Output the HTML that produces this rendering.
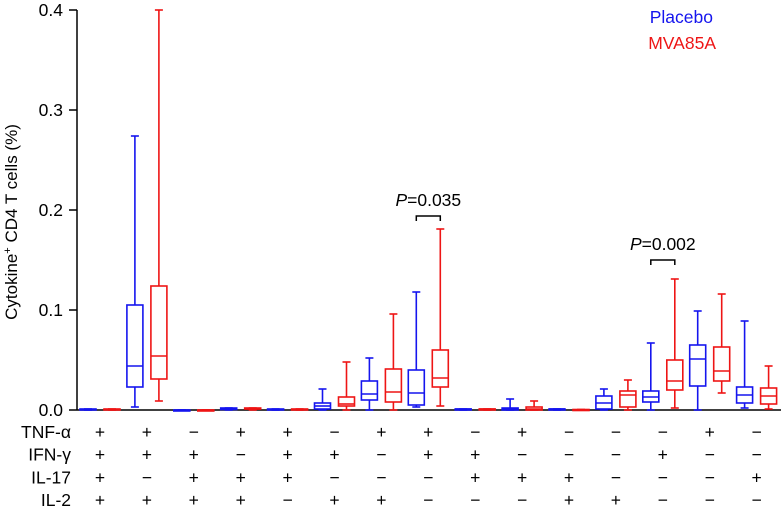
<!DOCTYPE html>
<html><head><meta charset="utf-8"><style>
body{margin:0;background:#fff;}
svg{display:block;font-family:"Liberation Sans",Arial,sans-serif;}
</style></head><body>
<svg id="chart" width="781" height="513">
<g id="axes"></g><g id="boxes"></g><g id="rows"></g>
<text x="713" y="23" fill="#1515ee" font-size="17.5" text-anchor="end">Placebo</text>
<text x="716" y="49" fill="#ee1515" font-size="17.5" text-anchor="end">MVA85A</text>
<text transform="translate(17,222) rotate(-90)" font-size="17" text-anchor="middle">Cytokine<tspan dy="-6" font-size="11">+</tspan><tspan dy="6"> CD4 T cells (%)</tspan></text>
</svg>
<script>
const yTicks=[0,0.1,0.2,0.3,0.4];
const tickLabels=["0.0","0.1","0.2","0.3","0.4"];
// [min,q1,median,q3,max]
const placebo=[[0,0,0.0005,0.001,0.001],[0.003,0.023,0.044,0.105,0.274],[0,0,0,0,0],[0,0.0005,0.001,0.002,0.002],[0,0,0.0005,0.001,0.001],[0,0.001,0.004,0.007,0.021],[0,0.010,0.016,0.029,0.052],[0.003,0.005,0.017,0.040,0.118],[0,0,0.001,0.001,0.001],[0,0,0.001,0.002,0.011],[0,0,0.001,0.001,0.001],[0,0.001,0.007,0.014,0.021],[0,0.008,0.013,0.019,0.067],[0,0.024,0.051,0.065,0.099],[0.002,0.007,0.015,0.023,0.089]];
const mva=[[0,0,0.0005,0.001,0.001],[0.009,0.031,0.054,0.124,0.4],[0,0,0,0,0],[0,0.001,0.001,0.002,0.002],[0,0,0.0005,0.001,0.001],[0,0.004,0.006,0.013,0.048],[0,0.008,0.018,0.041,0.096],[0.004,0.023,0.032,0.060,0.181],[0,0,0.001,0.001,0.001],[0,0,0.001,0.003,0.009],[0,0,0,0.0005,0.0005],[0,0.003,0.015,0.019,0.030],[0.002,0.020,0.029,0.050,0.131],[0.017,0.029,0.039,0.063,0.116],[0.001,0.006,0.014,0.022,0.044]];
const rowNames=["TNF-\u03b1","IFN-\u03b3","IL-17","IL-2"];
const signs=[
"++-++-++-+---+-",
"+++-++-++---+--",
"+-+++---+++---+",
"++++-++---++---"];
const pvals=[{g:7,y:0.194,label:"0.035"},{g:12,y:0.150,label:"0.002"}];
const NS="http://www.w3.org/2000/svg";
const Y=v=>410-v*1000;
const X=i=>100+i*46.9;
function el(t,a,p){const e=document.createElementNS(NS,t);for(const k in a)e.setAttribute(k,a[k]);p.appendChild(e);return e;}
const ax=document.getElementById('axes');
const a1=el('line',{x1:77,y1:Y(0.4),x2:77,y2:410,stroke:'#000','stroke-width':1.5},ax);

const a2=el('line',{x1:77,y1:410,x2:781,y2:410,stroke:'#000','stroke-width':1.5},ax);

yTicks.forEach((v,i)=>{
 el('line',{x1:69,y1:Y(v),x2:77,y2:Y(v),stroke:'#000','stroke-width':1.5},ax);
 const t=el('text',{x:63,y:Y(v)+6,'font-size':17.5,'text-anchor':'end'},ax);t.textContent=tickLabels[i];
 
});
const bx=document.getElementById('boxes');
function box(d,cx,col,name){
 const g=el('g',{stroke:col,'stroke-width':1.6,fill:'none'},bx);
 
 const w=8;
 el('line',{x1:cx,y1:Y(d[4]),x2:cx,y2:Y(d[3]),},g);
 el('line',{x1:cx,y1:Y(d[1]),x2:cx,y2:Y(d[0])},g);
 el('line',{x1:cx-4,y1:Y(d[4]),x2:cx+4,y2:Y(d[4])},g);
 el('line',{x1:cx-4,y1:Y(d[0]),x2:cx+4,y2:Y(d[0])},g);
 el('rect',{x:cx-w,y:Y(d[3]),width:2*w,height:Math.max(Y(d[1])-Y(d[3]),1)},g);
 el('line',{x1:cx-w,y1:Y(d[2]),x2:cx+w,y2:Y(d[2])},g);
}
placebo.forEach((d,i)=>box(d,X(i)-12,'#1515ee','box-placebo-'+(i+1)));
mva.forEach((d,i)=>box(d,X(i)+12,'#ee1515','box-mva85a-'+(i+1)));
pvals.forEach(p=>{
 const g=el('g',{},bx);
 
 const x1=X(p.g)-12,x2=X(p.g)+12,y=Y(p.y);
 el('path',{d:`M${x1},${y+5}V${y}H${x2}V${y+5}`,stroke:'#000','stroke-width':1.5,fill:'none'},g);
 const t=el('text',{x:X(p.g),y:y-10,'font-size':17.5,'text-anchor':'middle'},g);
 const ts=el('tspan',{'font-style':'italic'},t);ts.textContent='P';
 t.appendChild(document.createTextNode('='+p.label));
});
const rw=document.getElementById('rows');
rowNames.forEach((n,r)=>{
 const yy=438+r*22.7;
 const t=el('text',{x:71,y:yy,'font-size':17.5,'text-anchor':'end'},rw);t.textContent=n;
 
 [...signs[r]].forEach((s,i)=>{
  const c=el('text',{x:X(i),y:yy,'font-size':17.5,'text-anchor':'middle'},rw);
  c.textContent=s==='+'?'+':'\u2212';
  
 });
});
</script>
</body></html>
